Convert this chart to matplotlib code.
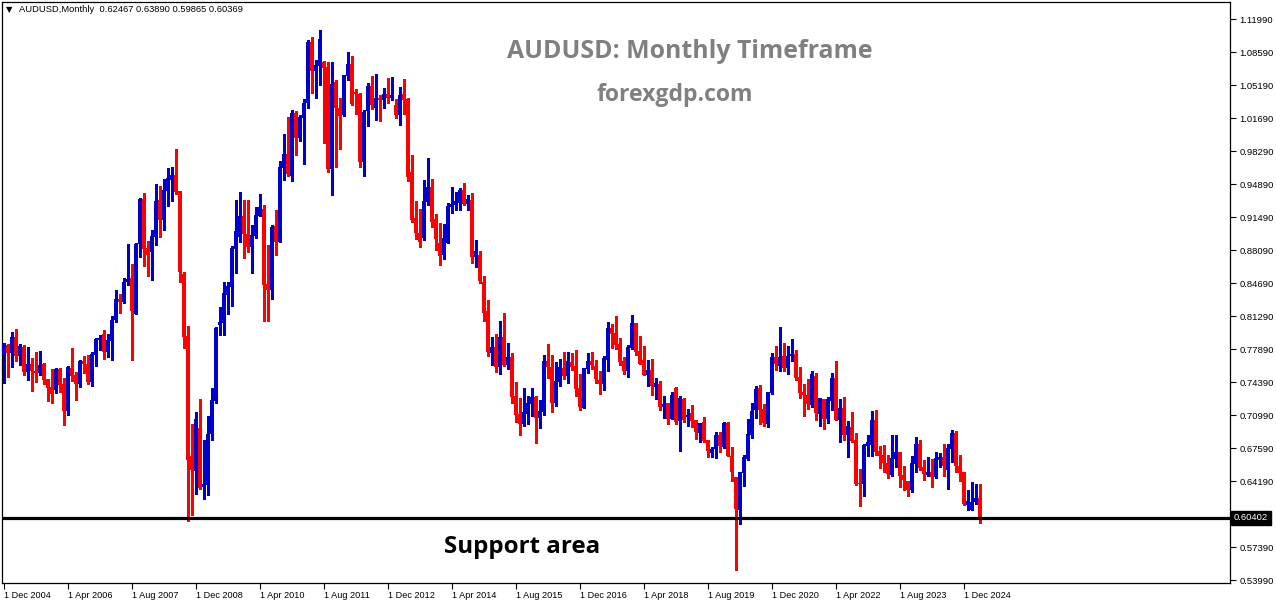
import numpy as np
import pandas as pd
import matplotlib
matplotlib.use("Agg")
import matplotlib.pyplot as plt
from matplotlib.transforms import blended_transform_factory

# === DATA (AUDUSD monthly, Dec 2004 .. Apr 2025) ===
opens = [
    0.7725, 0.7829, 0.7749, 0.7911, 0.7715, 0.7808, 0.7553, 0.7632, 0.7563, 0.7542,
    0.7632, 0.7477, 0.7394, 0.7363, 0.7580, 0.7425, 0.7150, 0.7591, 0.7518, 0.7429,
    0.7663, 0.7632, 0.7446, 0.7725, 0.7880, 0.7942, 0.7756, 0.7870, 0.8087, 0.8304,
    0.8273, 0.8480, 0.8521, 0.8149, 0.8873, 0.9338, 0.8831, 0.8790, 0.8945, 0.9328,
    0.9121, 0.9421, 0.9534, 0.9586, 0.9421, 0.8562, 0.7922, 0.6681, 0.6526, 0.6970,
    0.6364, 0.6381, 0.6908, 0.7249, 0.8035, 0.8059, 0.8345, 0.8431, 0.8821, 0.8949,
    0.9162, 0.8980, 0.8845, 0.8959, 0.9166, 0.9235, 0.8459, 0.8397, 0.9059, 0.8897,
    0.9662, 0.9800, 0.9579, 1.0227, 0.9972, 1.0179, 1.0327, 1.0961, 1.0665, 1.0717,
    1.0754, 1.0703, 0.9648, 1.0551, 1.0282, 1.0206, 1.0610, 1.0734, 1.0448, 1.0424,
    0.9724, 1.0251, 1.0506, 1.0282, 1.0382, 1.0365, 1.0424, 1.0386, 1.0310, 1.0210,
    1.0424, 1.0375, 0.9621, 0.9138, 0.8983, 0.8938, 0.9310, 0.9465, 0.9128, 0.8886,
    0.8762, 0.8886, 0.9259, 0.9279, 0.9300, 0.9431, 0.9290, 0.9328, 0.8742, 0.8759,
    0.8480, 0.8183, 0.7749, 0.7808, 0.7604, 0.7911, 0.7625, 0.7704, 0.7301, 0.7115,
    0.7015, 0.7119, 0.7222, 0.7291, 0.7077, 0.7139, 0.7663, 0.7601, 0.7232, 0.7449,
    0.7590, 0.7511, 0.7653, 0.7611, 0.7387, 0.7181, 0.7584, 0.7663, 0.7611, 0.7470,
    0.7429, 0.7673, 0.8004, 0.7952, 0.7839, 0.7663, 0.7560, 0.7797, 0.8056, 0.7766,
    0.7673, 0.7518, 0.7570, 0.7391, 0.7425, 0.7187, 0.7229, 0.7063, 0.7384, 0.7043,
    0.7270, 0.7084, 0.7126, 0.7053, 0.6919, 0.7032, 0.6846, 0.6712, 0.6753, 0.6898,
    0.6774, 0.7022, 0.6681, 0.6464, 0.6123, 0.6508, 0.6650, 0.6898, 0.7157, 0.7384,
    0.7167, 0.7012, 0.7332, 0.7704, 0.7615, 0.7715, 0.7591, 0.7715, 0.7735, 0.7498,
    0.7342, 0.7312, 0.7208, 0.7508, 0.7119, 0.7270, 0.7067, 0.7253, 0.7487, 0.7057,
    0.7177, 0.6901, 0.6981, 0.6846, 0.6402, 0.6395, 0.6788, 0.6798, 0.7053, 0.6732,
    0.6691, 0.6612, 0.6488, 0.6653, 0.6722, 0.6488, 0.6426, 0.6333, 0.6602, 0.6805,
    0.6571, 0.6481, 0.6515, 0.6467, 0.6643, 0.6674, 0.6540, 0.6757, 0.6919, 0.6581,
    0.6515, 0.6178, 0.6126, 0.6209, 0.62467,
]
highs = [
    0.7853, 0.7839, 0.7963, 0.7994, 0.7839, 0.7829, 0.7808, 0.7694, 0.7756, 0.7766,
    0.7642, 0.7477, 0.7580, 0.7591, 0.7591, 0.7487, 0.7611, 0.7797, 0.7549, 0.7673,
    0.7715, 0.7725, 0.7756, 0.7901, 0.7932, 0.7984, 0.7942, 0.8128, 0.8397, 0.8356,
    0.8521, 0.8873, 0.8666, 0.8883, 0.9348, 0.9400, 0.8904, 0.9017, 0.9493, 0.9472,
    0.9545, 0.9658, 0.9669, 0.9855, 0.9421, 0.8583, 0.8025, 0.7012, 0.7136, 0.7270,
    0.6846, 0.7094, 0.7384, 0.8015, 0.8220, 0.8483, 0.8483, 0.8855, 0.9328, 0.9410,
    0.9328, 0.9328, 0.9069, 0.9255, 0.9390, 0.9276, 0.8862, 0.9069, 0.9224, 0.9731,
    1.0010, 1.0186, 1.0258, 1.0250, 1.0206, 1.0372, 1.0982, 1.1013, 1.0775, 1.1085,
    1.0765, 1.0754, 1.0754, 1.0568, 1.0386, 1.0620, 1.0858, 1.0816, 1.0479, 1.0434,
    1.0258, 1.0537, 1.0610, 1.0630, 1.0417, 1.0486, 1.0589, 1.0599, 1.0372, 1.0499,
    1.0579, 1.0386, 0.9793, 0.9317, 0.9235, 0.9534, 0.9762, 0.9545, 0.9179, 0.9093,
    0.9080, 0.9300, 0.9462, 0.9410, 0.9452, 0.9503, 0.9383, 0.9400, 0.8914, 0.8804,
    0.8542, 0.8294, 0.7911, 0.7942, 0.8077, 0.8163, 0.7849, 0.7746, 0.7446, 0.7281,
    0.7384, 0.7301, 0.7384, 0.7301, 0.7263, 0.7725, 0.7839, 0.7725, 0.7656, 0.7684,
    0.7756, 0.7756, 0.7746, 0.7777, 0.7532, 0.7590, 0.7749, 0.7756, 0.7673, 0.7560,
    0.7715, 0.8066, 0.8045, 0.8128, 0.7901, 0.7704, 0.7828, 0.8139, 0.8060, 0.7921,
    0.7818, 0.7673, 0.7684, 0.7487, 0.7456, 0.7301, 0.7229, 0.7343, 0.7394, 0.7301,
    0.7281, 0.7167, 0.7208, 0.7053, 0.7022, 0.7084, 0.6846, 0.6774, 0.6929, 0.6929,
    0.7032, 0.7032, 0.6774, 0.6464, 0.6515, 0.6691, 0.7063, 0.7229, 0.7405, 0.7415,
    0.7219, 0.7343, 0.7746, 0.7818, 0.8015, 0.7849, 0.7818, 0.7890, 0.7777, 0.7601,
    0.7425, 0.7477, 0.7560, 0.7539, 0.7281, 0.7270, 0.7291, 0.7539, 0.7663, 0.7270,
    0.7291, 0.7043, 0.7136, 0.6919, 0.6546, 0.6805, 0.6898, 0.7146, 0.7156, 0.6784,
    0.6795, 0.6694, 0.6898, 0.6898, 0.6722, 0.6581, 0.6426, 0.6681, 0.6877, 0.6846,
    0.6643, 0.6674, 0.6653, 0.6726, 0.6715, 0.6805, 0.6805, 0.6950, 0.6939, 0.6694,
    0.6515, 0.6329, 0.6412, 0.6391, 0.63890,
]
lows = [
    0.7439, 0.7501, 0.7604, 0.7666, 0.7622, 0.7518, 0.7467, 0.7356, 0.7449, 0.7518,
    0.7425, 0.7253, 0.7232, 0.7336, 0.7346, 0.7005, 0.7108, 0.7460, 0.7263, 0.7398,
    0.7542, 0.7429, 0.7408, 0.7611, 0.7777, 0.7684, 0.7708, 0.7673, 0.8066, 0.8159,
    0.8263, 0.8449, 0.7673, 0.8149, 0.8738, 0.8645, 0.8542, 0.8500, 0.8862, 0.8945,
    0.9017, 0.9266, 0.9317, 0.9390, 0.8480, 0.7797, 0.6009, 0.6071, 0.6288, 0.6340,
    0.6236, 0.6278, 0.6846, 0.7229, 0.7932, 0.7932, 0.8153, 0.8232, 0.8569, 0.8897,
    0.8731, 0.8793, 0.8576, 0.8931, 0.9166, 0.8080, 0.8080, 0.8304, 0.8759, 0.8897,
    0.9534, 0.9579, 0.9527, 0.9793, 0.9941, 0.9703, 1.0282, 1.0437, 1.0386, 1.0517,
    0.9914, 0.9621, 0.9379, 0.9665, 0.9855, 1.0200, 1.0568, 1.0306, 1.0220, 0.9672,
    0.9579, 1.0096, 1.0272, 1.0158, 1.0148, 1.0282, 1.0334, 1.0365, 1.0179, 1.0106,
    1.0220, 0.9524, 0.9097, 0.8928, 0.8845, 0.8914, 0.9276, 0.9052, 0.8814, 0.8659,
    0.8721, 0.8886, 0.9197, 0.9228, 0.9224, 0.9276, 0.9228, 0.8680, 0.8638, 0.8473,
    0.8080, 0.7718, 0.7625, 0.7553, 0.7532, 0.7615, 0.7584, 0.7232, 0.7036, 0.6901,
    0.6995, 0.7015, 0.7095, 0.6819, 0.6974, 0.7108, 0.7491, 0.7139, 0.7201, 0.7408,
    0.7480, 0.7439, 0.7570, 0.7305, 0.7160, 0.7181, 0.7542, 0.7584, 0.7439, 0.7325,
    0.7367, 0.7563, 0.7797, 0.7787, 0.7622, 0.7529, 0.7498, 0.7787, 0.7725, 0.7630,
    0.7515, 0.7405, 0.7312, 0.7270, 0.7157, 0.7074, 0.7012, 0.7063, 0.7012, 0.6733,
    0.7032, 0.6991, 0.6981, 0.6857, 0.6826, 0.6826, 0.6670, 0.6670, 0.6660, 0.6722,
    0.6763, 0.6684, 0.6422, 0.5502, 0.5978, 0.6371, 0.6640, 0.6867, 0.7074, 0.7012,
    0.6991, 0.6981, 0.7322, 0.7570, 0.7560, 0.7560, 0.7529, 0.7663, 0.7467, 0.7281,
    0.7098, 0.7163, 0.7187, 0.7057, 0.6994, 0.6964, 0.7025, 0.7156, 0.7057, 0.6826,
    0.6846, 0.6674, 0.6829, 0.6381, 0.6167, 0.6271, 0.6684, 0.6684, 0.6695, 0.6560,
    0.6519, 0.6457, 0.6478, 0.6571, 0.6364, 0.6333, 0.6271, 0.6312, 0.6515, 0.6540,
    0.6436, 0.6471, 0.6364, 0.6457, 0.6571, 0.6478, 0.6343, 0.6622, 0.6519, 0.6426,
    0.6178, 0.6126, 0.6126, 0.6188, 0.59865,
]
closes = [
    0.7839, 0.7749, 0.7911, 0.7715, 0.7818, 0.7553, 0.7632, 0.7563, 0.7542, 0.7622,
    0.7467, 0.7387, 0.7325, 0.7580, 0.7415, 0.7150, 0.7601, 0.7508, 0.7429, 0.7663,
    0.7632, 0.7446, 0.7735, 0.7890, 0.7901, 0.7756, 0.7880, 0.8087, 0.8304, 0.8273,
    0.8480, 0.8511, 0.8180, 0.8873, 0.9338, 0.8821, 0.8759, 0.8955, 0.9317, 0.9121,
    0.9431, 0.9555, 0.9586, 0.9410, 0.8583, 0.7911, 0.6640, 0.6536, 0.7063, 0.6350,
    0.6391, 0.6908, 0.7260, 0.8004, 0.8070, 0.8369, 0.8438, 0.8835, 0.9007, 0.9162,
    0.8980, 0.8845, 0.8966, 0.9173, 0.9255, 0.8449, 0.8397, 0.9049, 0.8897, 0.9669,
    0.9800, 0.9600, 1.0227, 0.9972, 1.0186, 1.0331, 1.0961, 1.0665, 1.0723, 1.0992,
    1.0696, 0.9648, 1.0527, 1.0275, 1.0200, 1.0620, 1.0734, 1.0324, 1.0427, 0.9724,
    1.0241, 1.0506, 1.0310, 1.0382, 1.0362, 1.0424, 1.0386, 1.0413, 1.0210, 1.0413,
    1.0365, 0.9569, 0.9121, 0.8983, 0.8897, 0.9317, 0.9465, 0.9104, 0.8928, 0.8752,
    0.8935, 0.9266, 0.9286, 0.9317, 0.9431, 0.9290, 0.9338, 0.8742, 0.8804, 0.8494,
    0.8163, 0.7760, 0.7808, 0.7604, 0.7911, 0.7622, 0.7704, 0.7294, 0.7108, 0.7015,
    0.7136, 0.7229, 0.7291, 0.7077, 0.7146, 0.7663, 0.7604, 0.7232, 0.7460, 0.7601,
    0.7511, 0.7663, 0.7604, 0.7377, 0.7191, 0.7590, 0.7663, 0.7625, 0.7480, 0.7429,
    0.7694, 0.8004, 0.7942, 0.7828, 0.7653, 0.7560, 0.7808, 0.8056, 0.7760, 0.7632,
    0.7518, 0.7570, 0.7405, 0.7439, 0.7184, 0.7219, 0.7063, 0.7312, 0.7032, 0.7280,
    0.7053, 0.7105, 0.7043, 0.6929, 0.7022, 0.6836, 0.6733, 0.6753, 0.6898, 0.6784,
    0.7022, 0.6684, 0.6515, 0.6133, 0.6515, 0.6670, 0.6908, 0.7146, 0.7374, 0.7157,
    0.7022, 0.7343, 0.7704, 0.7632, 0.7704, 0.7591, 0.7715, 0.7735, 0.7487, 0.7332,
    0.7315, 0.7222, 0.7529, 0.7129, 0.7281, 0.7067, 0.7270, 0.7487, 0.7057, 0.7177,
    0.6901, 0.6991, 0.6839, 0.6395, 0.6395, 0.6795, 0.6826, 0.7053, 0.6726, 0.6684,
    0.6612, 0.6498, 0.6660, 0.6722, 0.6478, 0.6436, 0.6333, 0.6609, 0.6805, 0.6560,
    0.6498, 0.6515, 0.6467, 0.6664, 0.6674, 0.6581, 0.6764, 0.6919, 0.6581, 0.6509,
    0.6188, 0.6215, 0.6209, 0.6247, 0.60369,
]

support_level = 0.60402
# MT4 right-scale labels (evenly spaced in pixels); the 0.60790 one sits under the price box
ytick_labels = ["0.53990", "0.57390", "", "0.64190", "0.67590", "0.70990",
                "0.74390", "0.77890", "0.81290", "0.84690", "0.88090", "0.91490",
                "0.94890", "0.98290", "1.01690", "1.05190", "1.08590", "1.11990"]

months = pd.date_range("2004-12-01", periods=len(opens), freq="MS")

# === PLOT ===
W, H = 1276, 604
fig = plt.figure(figsize=(W / 100, H / 100), dpi=100)
fig.patch.set_facecolor("white")
# plot box in pixels: left 2, right 1230, top 2, bottom 583
ax = fig.add_axes([2 / W, (H - 583) / H, 1228 / W, 581 / H])

o = np.array(opens)
h = np.array(highs)
l = np.array(lows)
c = np.array(closes)
x = np.arange(len(o))
up = c >= o
colors = np.where(up, "#0000CD", "#FF0000")

ax.vlines(x, l, h, colors=colors, linewidth=0.75, antialiased=False, zorder=2)
body_low = np.minimum(o, c)
body_h = np.maximum(np.abs(c - o), 0.0012)
ax.bar(x, body_h, bottom=body_low, width=0.68, color=colors, linewidth=0,
       antialiased=False, zorder=3)

# support line
ax.axhline(support_level, color="black", linewidth=2.3, zorder=4)

ax.set_xlim(-0.375, 306.6)
ppu = 967.24  # pixels per price unit
ax.set_ylim(0.5399 - 3 / ppu, 0.5399 + 578 / ppu)

# x ticks every 16 months
xt = x[::16]
ax.set_xticks(xt)
ax.set_xticklabels([f"1 {d.strftime('%b %Y')}" for d in months[::16]],
                   ha="left", fontsize=6.6, family="Liberation Sans")
ax.tick_params(axis="x", direction="out", length=4, width=0.8, pad=2)

# y ticks on the right, evenly spaced like MT4
yt = np.linspace(0.5399, 1.1199, len(ytick_labels))
ax.yaxis.tick_right()
ax.set_yticks(yt)
ax.set_yticklabels(ytick_labels, fontsize=6.8, family="Liberation Sans")
ax.tick_params(axis="y", direction="out", length=4, width=0.8, pad=3)

for s in ax.spines.values():
    s.set_linewidth(0.9)

# price label box for support
tr = blended_transform_factory(ax.transAxes, ax.transData)
ax.text(1.0 + 4 / 1228, support_level, "0.60402", transform=tr, ha="left", va="center",
        fontsize=6.8, family="Liberation Sans", color="white", zorder=10, clip_on=False,
        bbox=dict(boxstyle="square,pad=0.3", facecolor="black", edgecolor="black"))

# header
fig.text(6 / W, 1 - 10 / H, "\u25BC", fontsize=6, color="black", va="center", ha="left")
fig.text(19 / W, 1 - 10 / H, "AUDUSD,Monthly  0.62467 0.63890 0.59865 0.60369",
         fontsize=6.75, family="Liberation Sans", color="black", va="center", ha="left")

# titles
fig.text(690 / W, 1 - 52 / H, "AUDUSD: Monthly Timeframe", fontsize=17.9, fontweight="bold",
         family="Open Sans", color="#808080", ha="center", va="center")
fig.text(675 / W, 1 - 95 / H, "forexgdp.com", fontsize=16.6, fontweight="bold",
         family="Open Sans", color="#808080", ha="center", va="center")
fig.text(444 / W, 1 - 547 / H, "Support area", fontsize=17.4, fontweight="bold",
         family="Open Sans", color="black", ha="left", va="center")

fig.savefig("out.png", dpi=100)
